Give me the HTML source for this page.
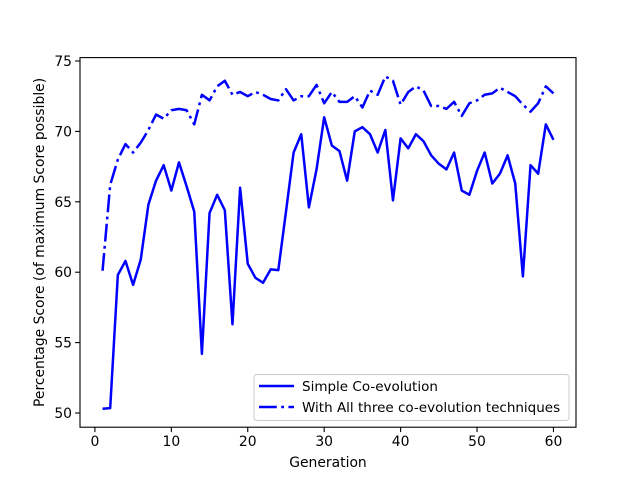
<!DOCTYPE html>
<html><head><meta charset="utf-8"><style>body{margin:0;background:#fff}svg{display:block;font-family:"DejaVu Sans","Liberation Sans",sans-serif}</style></head>
<body>
<svg id="chart" width="640" height="480"></svg>
<script>
const generations = Array.from({length:60},(_,i)=>i+1);
const simpleCoevolution = [50.3,50.35,59.8,60.8,59.1,60.9,64.8,66.5,67.6,65.8,67.8,66.1,64.3,54.2,64.2,65.5,64.4,56.3,66.0,60.6,59.6,59.25,60.2,60.15,64.3,68.5,69.8,64.6,67.3,71.0,69.0,68.6,66.5,70.0,70.3,69.8,68.5,70.1,65.1,69.5,68.8,69.8,69.3,68.3,67.7,67.3,68.5,65.8,65.5,67.2,68.5,66.3,67.0,68.3,66.3,59.7,67.6,67.0,70.5,69.4];
const allThreeTechniques = [60.1,66.2,68.0,69.1,68.5,69.2,70.1,71.2,70.9,71.5,71.6,71.5,70.5,72.6,72.2,73.2,73.6,72.6,72.8,72.5,72.8,72.6,72.3,72.2,73.0,72.2,72.5,72.5,73.3,72.0,72.8,72.1,72.1,72.5,71.7,72.9,72.6,73.9,73.6,71.9,72.8,73.2,72.9,71.8,71.8,71.6,72.1,71.1,72.0,72.2,72.6,72.7,73.1,72.8,72.5,71.9,71.4,72.0,73.2,72.7];
const xTicks = [0,10,20,30,40,50,60];
const yTicks = [50,55,60,65,70,75];

const NS="http://www.w3.org/2000/svg", svg=document.getElementById('chart');
const L=80,R=576,T=57.6,B=427.2;
const xs=v=>L+(v+1.95)*(R-L)/64.9;
const ys=v=>413-(v-50)*14.08;
function el(tag,attrs,parent){const e=document.createElementNS(NS,tag);for(const k in attrs)e.setAttribute(k,attrs[k]);(parent||svg).appendChild(e);return e;}

xTicks.forEach(t=>{
  const g=el('g',{});
  
  
  el('line',{x1:xs(t),x2:xs(t),y1:B,y2:B+4.9,stroke:'#000','stroke-width':1.1},g);
  const tx=el('text',{x:xs(t),y:B+19,'font-size':'13.9','text-anchor':'middle'},g);tx.textContent=t;
});
yTicks.forEach(t=>{
  const g=el('g',{});
  
  
  el('line',{x1:L-4.9,x2:L,y1:ys(t),y2:ys(t),stroke:'#000','stroke-width':1.1},g);
  const tx=el('text',{x:L-8,y:ys(t)+5,'font-size':'13.9','text-anchor':'end'},g);tx.textContent=t;
});
function path(data,dash,name){
  const d=data.map((v,i)=>(i?'L':'M')+xs(generations[i]).toFixed(2)+','+ys(v).toFixed(2)).join('');
  const p=el('path',{d:d,fill:'none',stroke:'#0000ff','stroke-width':2.5,'stroke-linejoin':'round'});
  if(dash)p.setAttribute('stroke-dasharray',dash);
  
  
}
path(simpleCoevolution,null,'simple-coevolution-line');
path(allThreeTechniques,'17.8,4.4,2.8,4.4','all-three-techniques-line');

const frame=el('rect',{x:L,y:T,width:R-L,height:B-T,fill:'none',stroke:'#000','stroke-width':1.1});



const xt=el('text',{x:(L+R)/2,y:467,'font-size':'13.9','text-anchor':'middle'});xt.textContent='Generation';


const yt=el('text',{x:0,y:0,'font-size':'13.9','text-anchor':'middle',transform:'translate(44,'+((T+B)/2)+') rotate(-90)'});yt.textContent='Percentage Score (of maximum Score possible)';



const lg=el('g',{});


el('rect',{x:254,y:374.5,width:315,height:46,rx:3,fill:'#fff',stroke:'#ccc','stroke-width':1},lg);
const e1=el('g',{},lg);


el('line',{x1:259,x2:294,y1:386,y2:386,stroke:'#0000ff','stroke-width':2.5},e1);
const t1=el('text',{x:302,y:391,'font-size':'13.5'},e1);t1.textContent='Simple Co-evolution';
const e2=el('g',{},lg);


el('line',{x1:259,x2:294,y1:407,y2:407,stroke:'#0000ff','stroke-width':2.5,'stroke-dasharray':'17.8,4.4,2.8,4.4'},e2);
const t2=el('text',{x:302,y:412,'font-size':'13.5'},e2);t2.textContent='With All three co-evolution techniques';
</script>
</body></html>
